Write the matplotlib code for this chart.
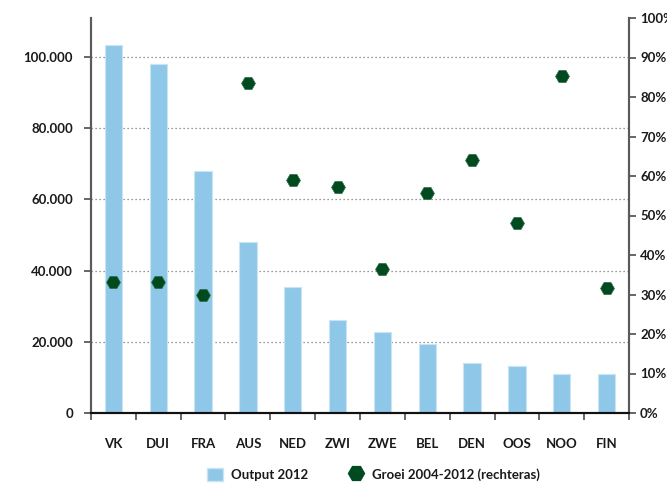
import matplotlib
matplotlib.use("Agg")
import matplotlib.pyplot as plt
from matplotlib.ticker import FuncFormatter, FixedLocator
from matplotlib.lines import Line2D
from matplotlib.patches import Patch
import numpy as np

plt.rcParams['font.family'] = ['Lato', 'DejaVu Sans']
plt.rcParams['font.weight'] = 'bold'

landen = ["VK", "DUI", "FRA", "AUS", "NED", "ZWI", "ZWE", "BEL", "DEN", "OOS", "NOO", "FIN"]
output_2012 = [103500, 98000, 68000, 48000, 35300, 26000, 22700, 19500, 14000, 13200, 10900, 10900]
groei_2004_2012 = [33.2, 33.2, 30.0, 83.5, 59.0, 57.3, 36.5, 55.6, 64.1, 48.1, 85.2, 31.6]
links_ticks = [0, 20000, 40000, 60000, 80000, 100000]
rechts_ticks = list(range(0, 101, 10))

bar_kleur = "#8fc7e8"
punt_kleur = "#004a1f"
as_kleur = "#5a5a5a"
tekst_kleur = "#1a1a1a"

fig = plt.figure(figsize=(6.67, 4.84), dpi=100)
ax = fig.add_axes([91/667, 71/484, 538/667, 395/484])
ax2 = ax.twinx()

x = np.arange(len(landen))
ax.bar(x, output_2012, width=0.39, color=bar_kleur, edgecolor="#c8e5f6", linewidth=0.8, zorder=2)
ax.set_xlim(-0.5, len(landen) - 0.5)
ax.set_ylim(0, 111000)

ax.yaxis.set_major_locator(FixedLocator(links_ticks))
ax.yaxis.set_major_formatter(FuncFormatter(lambda v, p: f"{int(v):,}".replace(",", ".")))
for t in links_ticks[1:]:
    ax.axhline(t, color="#777777", linestyle=(0, (1, 2.2)), linewidth=0.9, zorder=1)

ax.set_xticks(x)
ax.set_xticklabels(landen)
ax.set_xticks(np.arange(-0.5, len(landen)), minor=True)
ax.tick_params(axis="x", which="major", length=0, pad=18, labelsize=9.5, colors=tekst_kleur)
ax.tick_params(axis="x", which="minor", length=5, width=1.3, color=as_kleur, direction="out")
ax.tick_params(axis="y", length=5, width=1.3, color=as_kleur, labelsize=9.5, labelcolor=tekst_kleur, pad=8)

ax2.scatter(x, groei_2004_2012, marker="H", s=100, color=punt_kleur, edgecolor="#2f6b44", linewidth=0.5, zorder=3)
ax2.set_ylim(0, 100)
ax2.yaxis.set_major_locator(FixedLocator(rechts_ticks))
ax2.yaxis.set_major_formatter(FuncFormatter(lambda v, p: f"{int(v)}%"))
ax2.tick_params(axis="y", length=5, width=1.3, color=as_kleur, labelsize=9.5, labelcolor=tekst_kleur, pad=3)

for a in (ax, ax2):
    a.spines["top"].set_visible(False)
    a.spines["left"].set_color(as_kleur)
    a.spines["right"].set_color(as_kleur)
    a.spines["left"].set_linewidth(1.5)
    a.spines["right"].set_linewidth(1.5)
    a.spines["bottom"].set_color("#111111")
    a.spines["bottom"].set_linewidth(1.5)
ax.set_zorder(0)
ax2.set_zorder(1)
ax2.patch.set_visible(False)

handles = [
    Patch(facecolor=bar_kleur, edgecolor="#c8e5f6", label="Output 2012"),
    Line2D([], [], marker="H", linestyle="none", markersize=11.5, color=punt_kleur, label="Groei 2004-2012 (rechteras)"),
]
fig.legend(handles=handles, loc="center", bbox_to_anchor=(0.56, 0.02), ncol=2, frameon=False,
           fontsize=9.5, handlelength=1.2, handleheight=1.2, columnspacing=3.0, handletextpad=0.6,
           labelcolor=tekst_kleur)

fig.savefig("out.png", dpi=100)
